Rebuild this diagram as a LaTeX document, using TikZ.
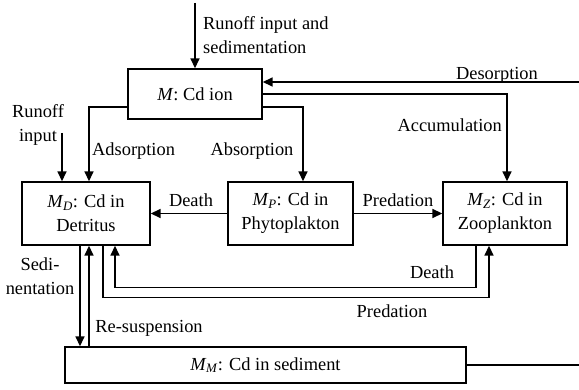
\documentclass[tikz,border=0pt]{standalone}
\usepackage{fontspec}
\setmainfont{Liberation Serif}
\usetikzlibrary{arrows.meta}
\newcommand\Mv[1]{\textit{M}\kern-0.5pt\textsubscript{\textit{#1}}}
\begin{document}
\begin{tikzpicture}[x=1pt,y=-1pt,
  font=\fontsize{18.4}{24}\selectfont,
  box/.style={draw,line width=1.4pt,inner sep=0pt,align=center},
  lnk/.style={line width=1.6pt},
  arr/.style={lnk,-{Triangle[length=10pt,width=9pt]}},
  lbl/.style={inner sep=0pt,align=center}]
\useasboundingbox (0,0) rectangle (579,390);
% boxes
\node[box,minimum width=134pt,minimum height=50pt] (M) at (195,94) {\textit{M}: Cd ion};
\node[box,minimum width=128pt,minimum height=63pt] (MD) at (86,213.5) {\Mv{D}: Cd in\\Detritus};
\node[box,minimum width=125pt,minimum height=63pt] (MP) at (290.5,213.5) {\Mv{P}: Cd in\\Phytoplakton};
\node[box,minimum width=124pt,minimum height=63pt] (MZ) at (505,213.5) {\Mv{Z}: Cd in\\Zooplankton};
\node[box,minimum width=401pt,minimum height=36pt] (MM) at (265.5,365) {\Mv{M}: Cd in sediment};
% free ends
\coordinate (topin) at (195,3);
\coordinate (desR) at (579,82);
\coordinate (runin) at (62,133);
\coordinate (mmR) at (579,365);
% connectors
\draw[arr] (topin) -- (M.north);
\draw[arr] (desR) -- (desR -| M.east);
\draw[arr] (M.east) -| ([xshift=2pt]MZ.north);
\draw[arr] ([yshift=-13pt]M.east) -| ([xshift=12.5pt]MP.north);
\draw[arr] ([yshift=-13pt]M.west) -| ([xshift=3pt]MD.north);
\draw[arr] (runin) -- (runin |- MD.north);
\draw[arr] (MP.west) -- (MD.east);
\draw[arr] (MP.east) -- (MZ.west);
\draw[arr] ([xshift=-29pt]MZ.south) -- ++(0,42) -| ([xshift=29pt]MD.south);
\draw[arr] ([xshift=17pt]MD.south) -- ++(0,52) -| ([xshift=-16pt]MZ.south);
\coordinate (s1) at ([xshift=-6pt]MD.south);
\coordinate (s2) at ([xshift=3pt]MD.south);
\draw[arr] (s1) -- (s1 |- MM.north);
\draw[arr] (s2 |- MM.north) -- (s2);
\draw[lnk] (MM.east) -- (mmR);
% labels
\node[lbl,anchor=west,align=left] (l1) at (203,35) {Runoff input and\\sedimentation};
\node[lbl] (l2) at (497,75) {Desorption};
\node[lbl,anchor=east] (l3) at (502,125) {Accumulation};
\node[lbl] (l4) at (252,151) {Absorption};
\node[lbl,anchor=west] (l5) at (92,151) {Adsorption};
\node[lbl] (l6) at (38,125) {Runoff\\input};
\node[lbl] (l7) at (191,200) {Death};
\node[lbl] (l8) at (398,200) {Predation};
\node[lbl] (l9) at (432,272) {Death};
\node[lbl] (l10) at (392,311) {Predation};
\node[lbl] (l11) at (40,276) {Sedi-\\nentation};
\node[lbl] (l12) at (149,328) {Re-suspension};
\end{tikzpicture}
\end{document}
